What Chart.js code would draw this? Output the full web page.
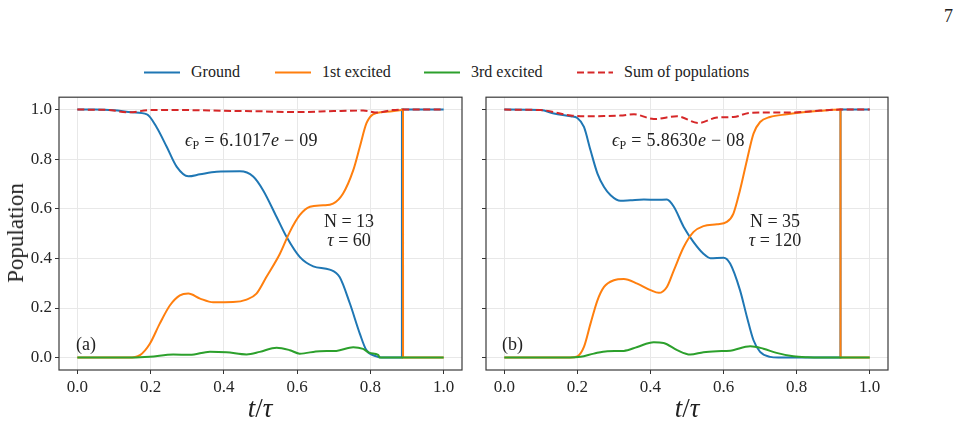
<!DOCTYPE html>
<html>
<head>
<meta charset="utf-8">
<script src="https://cdn.jsdelivr.net/npm/chart.js@4"></script>
<style>
  body { margin: 0; background: #fff; width: 962px; height: 426px; position: relative; overflow: hidden;
         font-family: "Liberation Serif", "DejaVu Serif", serif; color: #222; }
  .abs { position: absolute; white-space: nowrap; }
  canvas { position: absolute; }
  .ann { font-size: 18px; line-height: 18px; }
  .lg { font-size: 16px; line-height: 16px; top: 64px; }
  .lgline { position: absolute; top: 71px; }
</style>
</head>
<body>
<div class="abs" style="left:944px;top:6px;font-size:18px;">7</div>

<!-- legend -->
<svg class="lgline" style="left:144px" width="36" height="3"><line x1="0" y1="1.5" x2="36" y2="1.5" stroke="#1f77b4" stroke-width="2"/></svg>
<div class="abs lg" style="left:191px">Ground</div>
<svg class="lgline" style="left:275px" width="36" height="3"><line x1="0" y1="1.5" x2="36" y2="1.5" stroke="#ff7f0e" stroke-width="2"/></svg>
<div class="abs lg" style="left:322px">1st excited</div>
<svg class="lgline" style="left:424px" width="36" height="3"><line x1="0" y1="1.5" x2="36" y2="1.5" stroke="#2ca02c" stroke-width="2"/></svg>
<div class="abs lg" style="left:471px">3rd excited</div>
<svg class="lgline" style="left:577px" width="36" height="3"><line x1="0" y1="1.5" x2="36" y2="1.5" stroke="#d62728" stroke-width="2" stroke-dasharray="7 3.5"/></svg>
<div class="abs lg" style="left:624px">Sum of populations</div>

<canvas id="panelA" width="480" height="342" style="left:0;top:84px"></canvas>
<canvas id="panelB" width="482" height="342" style="left:480px;top:84px"></canvas>

<!-- axis titles -->
<div class="abs" style="left:16px;top:233px;font-size:23px;transform:translate(-50%,-50%) rotate(-90deg);">Population</div>
<div class="abs" style="left:260px;top:408px;font-size:27px;transform:translate(-50%,-50%);"><i>t</i>/<i>τ</i></div>
<div class="abs" style="left:687px;top:408px;font-size:27px;transform:translate(-50%,-50%);"><i>t</i>/<i>τ</i></div>

<!-- annotations -->
<div class="abs ann" style="left:185px;top:131px;letter-spacing:0.3px"><i>ϵ</i><span style="font-size:12px;vertical-align:-3px">P</span> = 6.1017<i>e</i> − 09</div>
<div class="abs ann" style="left:309px;top:212px;width:80px;text-align:center">N = 13</div>
<div class="abs ann" style="left:309px;top:231px;width:80px;text-align:center"><i>τ</i> = 60</div>
<div class="abs ann" style="left:76px;top:335px">(a)</div>

<div class="abs ann" style="left:612px;top:131px;letter-spacing:0.3px"><i>ϵ</i><span style="font-size:12px;vertical-align:-3px">P</span> = 5.8630<i>e</i> − 08</div>
<div class="abs ann" style="left:735px;top:212px;width:80px;text-align:center">N = 35</div>
<div class="abs ann" style="left:735px;top:231px;width:80px;text-align:center"><i>τ</i> = 120</div>
<div class="abs ann" style="left:502px;top:335px">(b)</div>

<script>
// tick positions shared by both panels
const xTicks = [0, 0.2, 0.4, 0.6, 0.8, 1.0];
const yTicks = [0, 0.2, 0.4, 0.6, 0.8, 1.0];

// panel (a): N = 13, tau = 60   -- [t/tau, population]
const groundA = [[0,1.0],[0.05,1.0],[0.1,0.997],[0.15,0.989],[0.19,0.981],[0.216,0.93],[0.244,0.85],[0.271,0.77],
  [0.303,0.731],[0.335,0.739],[0.38,0.749],[0.444,0.751],[0.48,0.73],[0.507,0.675],[0.544,0.567],[0.571,0.487],
  [0.607,0.406],[0.644,0.368],[0.689,0.355],[0.716,0.325],[0.744,0.218],[0.771,0.097],[0.789,0.03],[0.816,0.005],
  [0.83,0],[0.886,0],[0.8861,1.0],[1.0,1.0]];
const firstA = [[0,0],[0.14,0],[0.171,0.01],[0.198,0.056],[0.225,0.137],[0.253,0.211],[0.28,0.251],[0.303,0.258],
  [0.335,0.238],[0.371,0.223],[0.425,0.224],[0.462,0.234],[0.489,0.258],[0.516,0.325],[0.553,0.419],[0.58,0.507],
  [0.607,0.574],[0.635,0.608],[0.671,0.614],[0.698,0.621],[0.725,0.661],[0.753,0.755],[0.771,0.849],[0.789,0.944],
  [0.807,0.981],[0.835,0.99],[0.88,0.997],[0.889,1.0],[0.8891,0],[1.0,0]];
const thirdA = [[0,0],[0.15,0],[0.198,0.003],[0.262,0.012],[0.307,0.011],[0.362,0.024],[0.407,0.022],[0.462,0.013],
  [0.498,0.023],[0.544,0.04],[0.58,0.03],[0.607,0.016],[0.662,0.026],[0.707,0.027],[0.753,0.042],[0.78,0.035],
  [0.798,0.019],[0.821,0.011],[0.826,0],[1.0,0]];
const sumA = [[0,1.0],[0.08,0.999],[0.14,0.989],[0.2,0.998],[0.3,0.998],[0.4,0.995],[0.5,0.993],[0.6,0.99],
  [0.7,0.994],[0.78,0.996],[0.82,0.988],[0.86,0.998],[0.9,1.0],[1.0,1.0]];

// panel (b): N = 35, tau = 120
const groundB = [[0,1.0],[0.1,0.998],[0.136,0.984],[0.182,0.973],[0.2,0.966],[0.218,0.93],[0.236,0.836],[0.255,0.742],
  [0.273,0.688],[0.291,0.655],[0.318,0.632],[0.345,0.634],[0.382,0.637],[0.418,0.636],[0.445,0.637],[0.464,0.608],
  [0.491,0.527],[0.518,0.466],[0.545,0.419],[0.564,0.401],[0.6,0.403],[0.618,0.379],[0.645,0.272],[0.664,0.164],
  [0.682,0.07],[0.7,0.023],[0.727,0.003],[0.75,0],[0.92,0],[0.9201,1.0],[1.0,1.0]];
const firstB = [[0,0],[0.18,0],[0.2,0.005],[0.218,0.043],[0.236,0.137],[0.255,0.231],[0.273,0.285],[0.3,0.312],
  [0.327,0.317],[0.364,0.298],[0.4,0.272],[0.423,0.261],[0.445,0.285],[0.464,0.352],[0.491,0.446],[0.518,0.507],
  [0.545,0.53],[0.582,0.538],[0.609,0.547],[0.627,0.581],[0.645,0.675],[0.664,0.796],[0.682,0.903],[0.7,0.95],
  [0.727,0.97],[0.773,0.981],[0.818,0.989],[0.864,0.995],[0.92,1.0],[0.9201,0],[1.0,0]];
const thirdB = [[0,0],[0.18,0],[0.209,0.003],[0.245,0.016],[0.282,0.026],[0.327,0.027],[0.364,0.043],[0.409,0.062],
  [0.436,0.059],[0.473,0.03],[0.509,0.012],[0.545,0.022],[0.582,0.026],[0.618,0.028],[0.673,0.046],[0.709,0.036],
  [0.745,0.019],[0.791,0.005],[0.83,0.001],[0.87,0],[1.0,0]];
const sumB = [[0,1.0],[0.1,0.998],[0.182,0.976],[0.218,0.973],[0.273,0.974],[0.318,0.976],[0.355,0.981],[0.409,0.962],
  [0.473,0.973],[0.532,0.946],[0.582,0.968],[0.627,0.97],[0.673,0.987],[0.727,0.988],[0.782,0.988],[0.864,0.996],
  [0.918,1.0],[1.0,1.0]];

const FONT = '"Liberation Serif", "DejaVu Serif", serif';

const frame = {
  id: 'frame',
  afterDraw(chart) {
    const a = chart.chartArea, c = chart.ctx;
    c.save();
    c.strokeStyle = '#3a3a3a';
    c.lineWidth = 1.2;
    c.strokeRect(a.left, a.top, a.right - a.left, a.bottom - a.top);
    c.restore();
  }
};

function makePanel(id, ground, first, third, sum, showY, yWidth, padRight) {
  const line = (label, data, color, dash) => ({
    label, data, borderColor: color, borderWidth: 2, borderDash: dash || [],
    pointRadius: 0, fill: false, cubicInterpolationMode: 'monotone'
  });
  return new Chart(document.getElementById(id), {
    type: 'line',
    data: {
      // first dataset is drawn on top
      datasets: [
        line('Sum of populations', sum, '#d62728', [7, 3.5]),
        line('3rd excited', third, '#2ca02c'),
        line('1st excited', first, '#ff7f0e'),
        line('Ground', ground, '#1f77b4')
      ]
    },
    options: {
      responsive: false,
      animation: false,
      layout: { padding: { top: 0, right: padRight, left: 0, bottom: 0 } },
      plugins: { legend: { display: false }, tooltip: { enabled: false } },
      scales: {
        x: {
          type: 'linear', min: -0.05, max: 1.05,
          afterBuildTicks: s => { s.ticks = xTicks.map(v => ({ value: v })); },
          afterFit: s => { s.height = 56; },
          ticks: { callback: v => v.toFixed(1), font: { family: FONT, size: 17 }, color: '#262626',
                   padding: 3, maxRotation: 0, autoSkip: false },
          grid: { color: '#e8e8e8', tickColor: '#333', tickLength: 4 },
          border: { display: false }
        },
        y: {
          type: 'linear', min: -0.05, max: 1.05,
          afterBuildTicks: s => { s.ticks = yTicks.map(v => ({ value: v })); },
          afterFit: s => { s.width = yWidth; },
          ticks: { callback: v => showY ? v.toFixed(1) : '', font: { family: FONT, size: 17 }, color: '#262626',
                   padding: 3, autoSkip: false },
          grid: { color: '#e8e8e8', tickColor: '#333', tickLength: 4 },
          border: { display: false }
        }
      }
    },
    plugins: [frame]
  });
}

makePanel('panelA', groundA, firstA, thirdA, sumA, true, 59, 18);
makePanel('panelB', groundB, firstB, thirdB, sumB, false, 6, 74);
</script>
</body>
</html>
